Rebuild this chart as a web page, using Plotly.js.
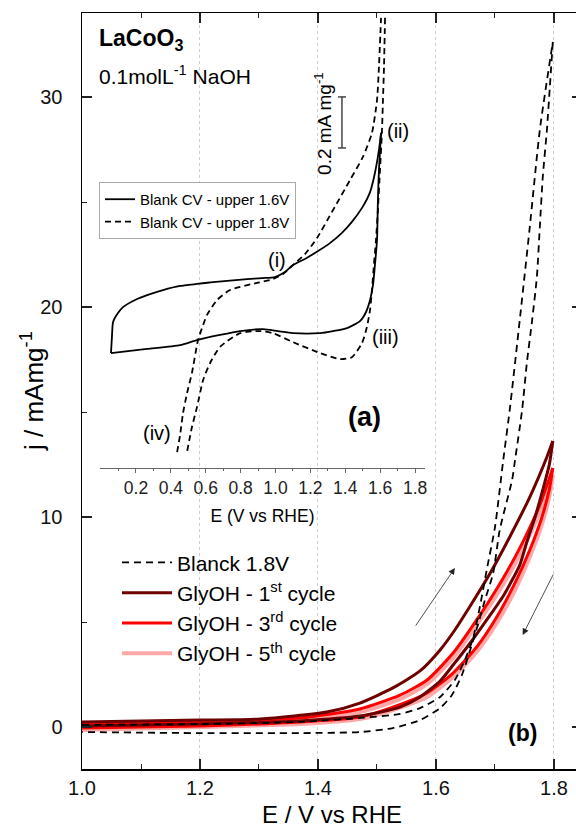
<!DOCTYPE html>
<html>
<head>
<meta charset="utf-8">
<script src="https://cdn.plot.ly/plotly-3.0.1.min.js"></script>
<style>
html,body{margin:0;padding:0;overflow:hidden;background:#fff;}
#chart{width:590px;height:828px;}
</style>
</head>
<body>
<div id="chart"></div>
<script>
// ---------- main panel (b): E / V vs RHE, j / mA mg-1 ----------
const E_blank_fwd = [1.000,1.200,1.369,1.471,1.539,1.573,1.607,1.632,1.649,1.663,1.675,1.686,1.700,1.714,1.725,1.742,1.759,1.776,1.798];
const j_blank_fwd = [0.10,0.14,0.24,0.43,0.62,0.90,1.43,2.24,3.19,4.24,5.81,7.48,9.52,12.71,15.10,19.38,23.81,28.43,32.62];
const E_blank_rev = [1.798,1.793,1.788,1.781,1.776,1.771,1.763,1.754,1.746,1.734,1.729,1.708,1.697,1.683,1.671,1.658,1.644,1.627,1.607,1.573,1.527,1.471,1.369,1.200,1.000];
const j_blank_rev = [32.62,30.48,28.43,26.19,23.81,21.43,19.38,17.33,15.10,12.71,11.76,9.38,7.33,6.05,4.86,3.67,2.48,1.52,0.90,0.33,-0.05,-0.24,-0.29,-0.29,-0.24];

const E_c1_fwd = [1.000,1.200,1.302,1.415,1.471,1.527,1.573,1.607,1.632,1.658,1.692,1.725,1.759,1.788,1.798];
const j_c1_fwd = [0.24,0.33,0.38,0.71,1.14,1.86,2.67,3.67,4.62,5.76,7.33,9.05,10.95,12.86,13.62];
const E_c1_rev = [1.798,1.792,1.781,1.768,1.754,1.742,1.714,1.686,1.658,1.629,1.607,1.573,1.539,1.471,1.369,1.200,1.000];
const j_c1_rev = [13.62,12.48,11.29,10.00,8.81,7.71,6.24,5.10,4.00,2.95,2.19,1.43,0.95,0.52,0.29,0.14,0.05];

const E_c3_fwd = [1.000,1.200,1.369,1.471,1.539,1.585,1.629,1.669,1.708,1.742,1.776,1.798];
const j_c3_fwd = [0.14,0.24,0.43,0.86,1.52,2.24,3.52,5.10,6.81,8.52,10.57,12.33];
const E_c3_rev = [1.798,1.792,1.778,1.759,1.734,1.703,1.669,1.629,1.585,1.527,1.471,1.369,1.200,1.000];
const j_c3_rev = [12.33,11.29,9.86,8.43,6.86,5.24,3.81,2.57,1.62,0.95,0.48,0.24,0.05,-0.05];

const E_c5_fwd = [1.000,1.200,1.369,1.471,1.539,1.585,1.629,1.669,1.708,1.742,1.776,1.798];
const j_c5_fwd = [0.10,0.19,0.33,0.71,1.33,2.05,3.29,4.86,6.52,8.19,10.24,12.00];
const E_c5_rev = [1.798,1.792,1.778,1.759,1.734,1.703,1.669,1.629,1.585,1.527,1.471,1.369,1.200,1.000];
const j_c5_rev = [12.00,10.95,9.52,8.10,6.52,4.95,3.57,2.38,1.43,0.81,0.38,0.14,0.00,-0.14];

const mainNames = ['Blanck 1.8V','GlyOH - 1<sup>st</sup> cycle','GlyOH - 3<sup>rd</sup> cycle','GlyOH - 5<sup>th</sup> cycle'];
const mainXTicks = [1.0,1.2,1.4,1.6,1.8];
const mainYTicks = [0,10,20,30];

// ---------- inset (a): E (V vs RHE), relative current (mA mg-1) ----------
const Ei_16_fwd = [0.057,0.063,0.069,0.097,0.126,0.195,0.264,0.355,0.453,0.550,0.642,0.739,0.837,0.923,0.997,1.054,1.100,1.169,1.244,1.312,1.381,1.438,1.496,1.542,1.570,1.593,1.605];
const ji_16_fwd = [0.000,0.071,0.122,0.157,0.180,0.208,0.227,0.247,0.263,0.271,0.278,0.284,0.290,0.294,0.298,0.318,0.345,0.369,0.400,0.431,0.471,0.514,0.569,0.631,0.706,0.796,0.863];
const Ei_16_rev = [1.605,1.593,1.587,1.582,1.570,1.559,1.542,1.519,1.484,1.410,1.330,1.255,1.100,1.014,0.928,0.797,0.682,0.550,0.453,0.264,0.057];
const ji_16_rev = [0.863,0.718,0.600,0.443,0.345,0.267,0.208,0.161,0.125,0.098,0.086,0.078,0.078,0.086,0.094,0.086,0.071,0.051,0.031,0.016,0.000];

const Ei_18_fwd = [0.436,0.453,0.470,0.493,0.521,0.556,0.585,0.607,0.665,0.739,0.894,0.986,1.043,1.100,1.169,1.238,1.330,1.427,1.501,1.553,1.582,1.593,1.605];
const ji_18_fwd = [-0.388,-0.322,-0.235,-0.157,-0.078,0.051,0.110,0.149,0.208,0.247,0.275,0.290,0.310,0.345,0.388,0.451,0.561,0.678,0.769,0.863,0.992,1.122,1.314];
const Ei_18_rev = [1.628,1.622,1.616,1.610,1.599,1.587,1.576,1.564,1.553,1.542,1.524,1.496,1.438,1.370,1.255,1.100,0.986,0.911,0.797,0.682,0.625,0.585,0.550,0.521,0.493];
const ji_18_rev = [1.314,1.122,0.992,0.863,0.718,0.561,0.443,0.345,0.247,0.169,0.102,0.039,-0.016,-0.024,0.000,0.043,0.078,0.086,0.078,0.024,-0.039,-0.106,-0.212,-0.290,-0.388];

const insetNames = ['Blank CV - upper 1.6V','Blank CV - upper 1.8V'];
const insetXTicks = [0.2,0.4,0.6,0.8,1.0,1.2,1.4,1.6,1.8];
const insetXMinor = [0.1,0.3,0.5,0.7,0.9,1.1,1.3,1.5,1.7];

const FONT = 'Liberation Sans, Arial, sans-serif';
const C1 = '#6e0000', C3 = '#ff0000', C5 = '#ffa8a8';

function branch(x, y, color, width, dash, name, show, legend, xa, ya) {
  return {x: x, y: y, type: 'scatter', mode: 'lines', name: name, showlegend: show,
    legend: legend, legendgroup: name, xaxis: xa, yaxis: ya,
    line: {color: color, width: width, dash: dash, shape: 'spline', smoothing: 0.6}};
}

const traces = [
  branch(E_c5_fwd, j_c5_fwd, C5, 4, 'solid', mainNames[3], true, 'legend', 'x', 'y'),
  branch(E_c5_rev, j_c5_rev, C5, 4, 'solid', mainNames[3], false, 'legend', 'x', 'y'),
  branch(E_c3_fwd, j_c3_fwd, C3, 3, 'solid', mainNames[2], true, 'legend', 'x', 'y'),
  branch(E_c3_rev, j_c3_rev, C3, 3, 'solid', mainNames[2], false, 'legend', 'x', 'y'),
  branch(E_c1_fwd, j_c1_fwd, C1, 3, 'solid', mainNames[1], true, 'legend', 'x', 'y'),
  branch(E_c1_rev, j_c1_rev, C1, 3, 'solid', mainNames[1], false, 'legend', 'x', 'y'),
  branch(E_blank_fwd, j_blank_fwd, '#000', 1.8, '7px,5px', mainNames[0], true, 'legend', 'x', 'y'),
  branch(E_blank_rev, j_blank_rev, '#000', 1.8, '7px,5px', mainNames[0], false, 'legend', 'x', 'y'),
  branch(Ei_16_fwd, ji_16_fwd, '#000', 1.8, 'solid', insetNames[0], true, 'legend2', 'x2', 'y2'),
  branch(Ei_16_rev, ji_16_rev, '#000', 1.8, 'solid', insetNames[0], false, 'legend2', 'x2', 'y2'),
  branch(Ei_18_fwd, ji_18_fwd, '#000', 1.8, '6px,4px', insetNames[1], true, 'legend2', 'x2', 'y2'),
  branch(Ei_18_rev, ji_18_rev, '#000', 1.8, '6px,4px', insetNames[1], false, 'legend2', 'x2', 'y2')
];

const scaleBar = {x: 1.381, y0: 0.804, y1: 1.004, cap: 0.023};

const layout = {
  width: 590, height: 828,
  margin: {l: 82, r: 8, t: 13, b: 59},
  paper_bgcolor: '#fff', plot_bgcolor: 'rgba(0,0,0,0)',
  font: {family: FONT, color: '#000', size: 18},
  showlegend: true,
  xaxis: {
    range: [1.0, 1.8475], tickvals: mainXTicks, ticktext: mainXTicks.map(v => v.toFixed(1)),
    showline: true, linecolor: '#000', linewidth: 1.5, mirror: 'ticks',
    ticks: 'inside', ticklen: 10, tickwidth: 1.3, tickcolor: '#222',
    minor: {dtick: 0.1, tick0: 1.0, ticks: 'inside', ticklen: 5, tickwidth: 1, tickcolor: '#222', showgrid: false},
    showgrid: true, gridcolor: '#cfcfcf', gridwidth: 1, griddash: 'dot', zeroline: false,
    tickfont: {size: 20, color: '#111'}, ticklabelstandoff: 0,
    title: {text: 'E / V vs RHE', font: {size: 24}, standoff: 12}
  },
  yaxis: {
    range: [-2, 34], tickvals: mainYTicks,
    showline: true, linecolor: '#000', linewidth: 1.5, mirror: 'ticks',
    ticks: 'inside', ticklen: 10, tickwidth: 1.3, tickcolor: '#222',
    minor: {dtick: 5, tick0: 0, ticks: 'inside', ticklen: 5, tickwidth: 1, tickcolor: '#222', showgrid: false},
    showgrid: false, zeroline: false,
    tickfont: {size: 20, color: '#111'}, ticklabelstandoff: 14,
    title: {text: ''}
  },
  xaxis2: {
    domain: [0.036, 0.686], anchor: 'y2', range: [-0.006, 1.857],
    tickvals: insetXTicks, ticktext: insetXTicks.map(v => v.toFixed(1)),
    showline: true, linecolor: '#666', linewidth: 1,
    ticks: 'outside', ticklen: 4, tickwidth: 1, tickcolor: '#666',
    minor: {tickvals: insetXMinor, ticks: 'outside', ticklen: 2, tickwidth: 1, tickcolor: '#666'},
    showgrid: false, zeroline: false,
    tickfont: {size: 17.5, color: '#222'},
    title: {text: 'E (V vs RHE)', font: {size: 17.5}, standoff: 12}
  },
  yaxis2: {
    domain: [0.398, 1.0], anchor: 'x2', range: [-0.451, 1.333], visible: false
  },
  legend: {
    x: 0.070, y: 0.300, xanchor: 'left', yanchor: 'top', traceorder: 'reversed',
    font: {size: 21, color: '#000'}, bgcolor: 'rgba(0,0,0,0)', borderwidth: 0,
    tracegroupgap: 0, itemwidth: 50
  },
  legend2: {
    x: 0.034, y: 0.7765, xanchor: 'left', yanchor: 'top', traceorder: 'normal',
    font: {size: 15, color: '#000'}, bgcolor: '#fff', bordercolor: '#aaa', borderwidth: 1,
    tracegroupgap: 0
  },
  shapes: [
    {type: 'line', xref: 'x2', yref: 'y2', x0: scaleBar.x, x1: scaleBar.x, y0: scaleBar.y0, y1: scaleBar.y1, line: {color: '#444', width: 1.5}},
    {type: 'line', xref: 'x2', yref: 'y2', x0: scaleBar.x - scaleBar.cap, x1: scaleBar.x + scaleBar.cap, y0: scaleBar.y0, y1: scaleBar.y0, line: {color: '#444', width: 1.5}},
    {type: 'line', xref: 'x2', yref: 'y2', x0: scaleBar.x - scaleBar.cap, x1: scaleBar.x + scaleBar.cap, y0: scaleBar.y1, y1: scaleBar.y1, line: {color: '#444', width: 1.5}}
  ],
  annotations: [
    {xref: 'paper', yref: 'paper', x: -0.100, y: 0.5, xanchor: 'center', yanchor: 'middle', showarrow: false,
      textangle: -90, text: 'j / mAmg<sup>-1</sup>', font: {size: 26}},
    {xref: 'paper', yref: 'paper', x: 0.03, y: 0.9643, xanchor: 'left', yanchor: 'middle', showarrow: false,
      text: '<b>LaCoO<sub>3</sub></b>', font: {size: 23}},
    {xref: 'paper', yref: 'paper', x: 0.03, y: 0.918, xanchor: 'left', yanchor: 'middle', showarrow: false,
      text: '0.1molL<sup>-1</sup> NaOH', font: {size: 21}},
    {xref: 'x2', yref: 'y2', x: 1.272, y: 0.902, showarrow: false, textangle: -90,
      text: '0.2 mA mg<sup>-1</sup>', font: {size: 19}},
    {xref: 'x2', yref: 'y2', x: 1.009, y: 0.365, showarrow: false, text: '(i)', font: {size: 20}},
    {xref: 'x2', yref: 'y2', x: 1.702, y: 0.871, showarrow: false, text: '(ii)', font: {size: 20}},
    {xref: 'x2', yref: 'y2', x: 1.633, y: 0.063, showarrow: false, text: '(iii)', font: {size: 20}},
    {xref: 'x2', yref: 'y2', x: 0.321, y: -0.314, showarrow: false, text: '(iv)', font: {size: 20}},
    {xref: 'x2', yref: 'y2', x: 1.513, y: -0.251, showarrow: false, text: '<b>(a)</b>', font: {size: 27}},
    {xref: 'x', yref: 'y', x: 1.747, y: -0.29, showarrow: false, text: '<b>(b)</b>', font: {size: 23}},
    {xref: 'x', yref: 'y', axref: 'x', ayref: 'y', x: 1.632, y: 7.57, ax: 1.564, ay: 4.76,
      showarrow: true, arrowhead: 2, arrowsize: 1.6, arrowwidth: 0.8, arrowcolor: '#222', text: ''},
    {xref: 'x', yref: 'y', axref: 'x', ayref: 'y', x: 1.747, y: 4.38, ax: 1.8, ay: 7.33,
      showarrow: true, arrowhead: 2, arrowsize: 1.6, arrowwidth: 0.8, arrowcolor: '#222', text: ''}
  ]
};

Plotly.newPlot('chart', traces, layout, {staticPlot: true, displayModeBar: false});
</script>
</body>
</html>
